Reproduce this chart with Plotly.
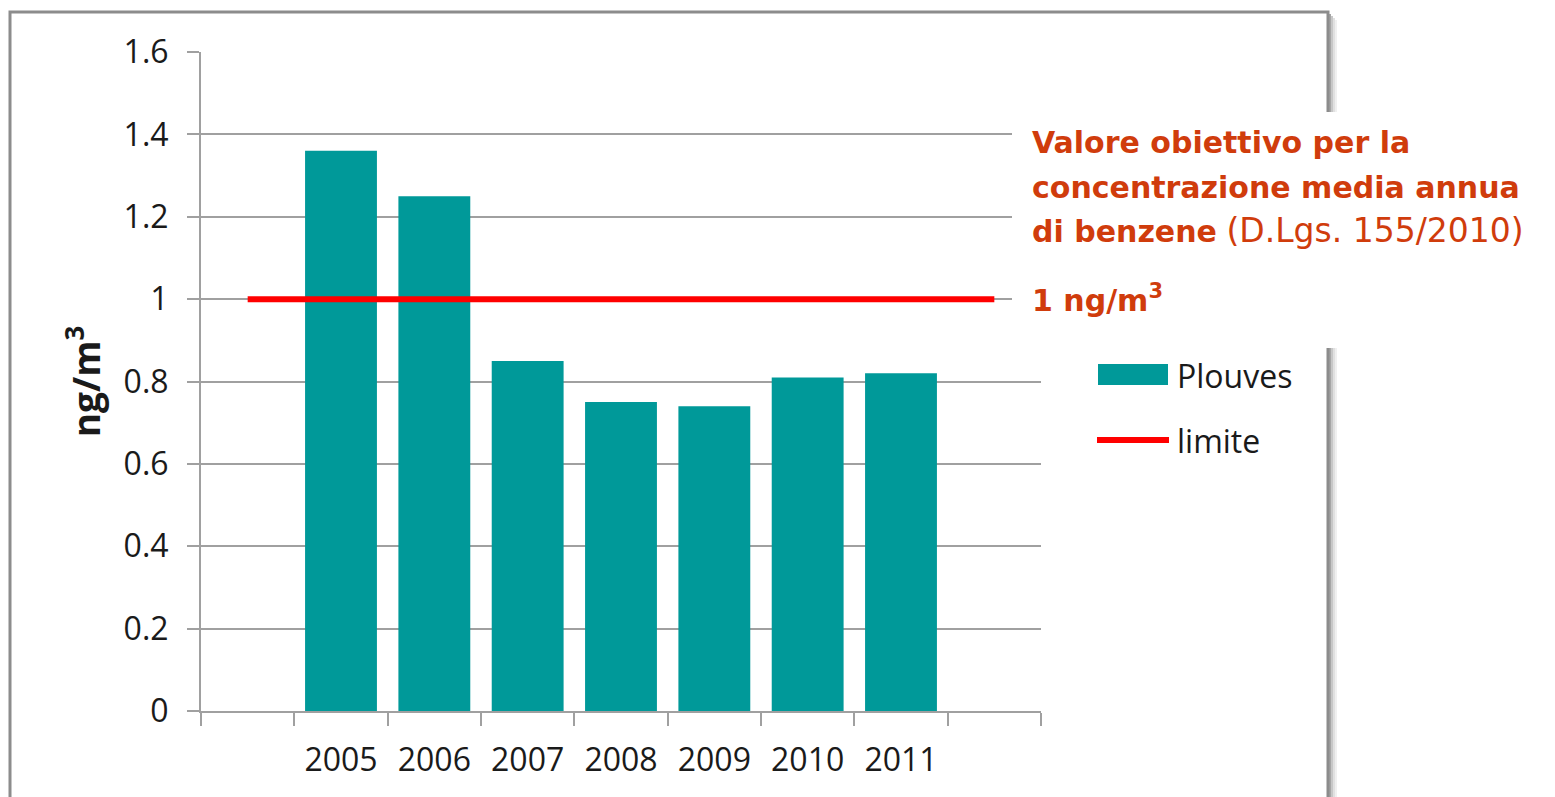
import plotly.graph_objects as go

# dati
anni = ["2005", "2006", "2007", "2008", "2009", "2010", "2011"]
plouves = [1.36, 1.25, 0.85, 0.75, 0.74, 0.81, 0.82]
valore_limite = 1.0

# categorie vuote ai lati, come nel grafico originale
categorie = [" "] + anni + ["  "]
limite = [valore_limite] * len(categorie)

W, H = 1555, 797
OFF = 8  # margine del body della pagina
L, R, T, B = 201, 1041, 52, 711  # area del grafico in pixel (sullo schermo)

def px(x):
    return (x - L) / (R - L)

def py(y):
    return (B - y) / (B - T)

TEAL = "#009999"
ROSSO = "#ff0000"
ARANCIO = "#d03c0c"
GRIGIO = "#a0a0a0"

fig = go.Figure()

fig.add_trace(go.Bar(x=anni, y=plouves, name="Plouves", marker=dict(color=TEAL, line=dict(width=0))))
fig.add_trace(go.Scatter(x=categorie, y=limite, name="limite", mode="lines",
                         line=dict(color=ROSSO, width=6)))

shapes = []
# cornice con ombra a destra
for i, op in enumerate([0.35, 0.22, 0.12, 0.06]):
    shapes.append(dict(type="rect", xref="paper", yref="paper",
                       x0=px(1329 + 2 * i), x1=px(1331 + 2 * i), y0=py(14 + 2 * i), y1=py(820),
                       fillcolor="rgba(0,0,0,%s)" % op, line=dict(width=0), layer="above"))
shapes.append(dict(type="rect", xref="paper", yref="paper",
                   x0=px(10), x1=px(1328), y0=py(12), y1=py(820),
                   line=dict(color="#8c8c8c", width=3), fillcolor="rgba(0,0,0,0)", layer="above"))
# riquadro bianco del testo
shapes.append(dict(type="rect", xref="paper", yref="paper",
                   x0=px(1012), x1=px(1560), y0=py(112), y1=py(348),
                   fillcolor="white", line=dict(width=0), layer="above"))
# legenda personalizzata
shapes.append(dict(type="rect", xref="paper", yref="paper",
                   x0=px(1098), x1=px(1168), y0=py(385), y1=py(364),
                   fillcolor=TEAL, line=dict(width=0), layer="above"))
shapes.append(dict(type="line", xref="paper", yref="paper",
                   x0=px(1097), x1=px(1169), y0=py(440), y1=py(440),
                   line=dict(color=ROSSO, width=6), layer="above"))

testo = dict(family="DejaVu Sans", size=30, color=ARANCIO)
righe = [
    ("<b>Valore obiettivo per la</b>", 143),
    ("<b>concentrazione media annua</b>", 187),
    ("<b>di benzene</b> <span style='font-size:33px'>(D.Lgs. 155/2010)</span>", 230),
    ("<b>1 ng/m<sup>3</sup></b>", 298),
]
annotations = []
for t, y in righe:
    annotations.append(dict(text=t, xref="paper", yref="paper", x=px(1030), y=py(y),
                            xanchor="left", yanchor="middle", showarrow=False, font=testo))

etich = dict(family="Open Sans", size=32, color="#1a1a1a")
annotations.append(dict(text="Plouves", xref="paper", yref="paper", x=px(1175), y=py(375),
                        xanchor="left", yanchor="middle", showarrow=False, font=etich))
annotations.append(dict(text="limite", xref="paper", yref="paper", x=px(1175), y=py(440),
                        xanchor="left", yanchor="middle", showarrow=False, font=etich))

fig.update_layout(
    width=W, height=H,
    margin=dict(l=L - OFF, r=W - R + OFF, t=T - OFF, b=H - B + OFF),
    paper_bgcolor="white", plot_bgcolor="white",
    showlegend=False,
    bargap=0.23,
    font=etich,
    shapes=shapes,
    annotations=annotations,
)

fig.update_xaxes(
    type="category", categoryorder="array", categoryarray=categorie,
    tickmode="array", tickvals=categorie, ticktext=["", *anni, ""],
    tickson="boundaries", ticks="outside", ticklen=13, tickwidth=2, tickcolor=GRIGIO,
    showline=True, linecolor=GRIGIO, linewidth=2, showgrid=False,
    tickfont=etich, ticklabelstandoff=20,
    range=[-0.5, len(categorie) - 0.5],
)
fig.update_yaxes(
    range=[0, 1.6], dtick=0.2, tick0=0,
    showgrid=True, gridcolor=GRIGIO, gridwidth=2,
    ticks="outside", ticklen=12, tickwidth=2, tickcolor=GRIGIO,
    showline=True, linecolor=GRIGIO, linewidth=2, zeroline=False,
    tickfont=etich, ticklabelstandoff=12,
    title=dict(text="<b>ng/m<sup>3</sup></b>", font=dict(family="Open Sans", size=37, color="#1a1a1a"),
               standoff=12),
)

fig.write_html("out.html")
